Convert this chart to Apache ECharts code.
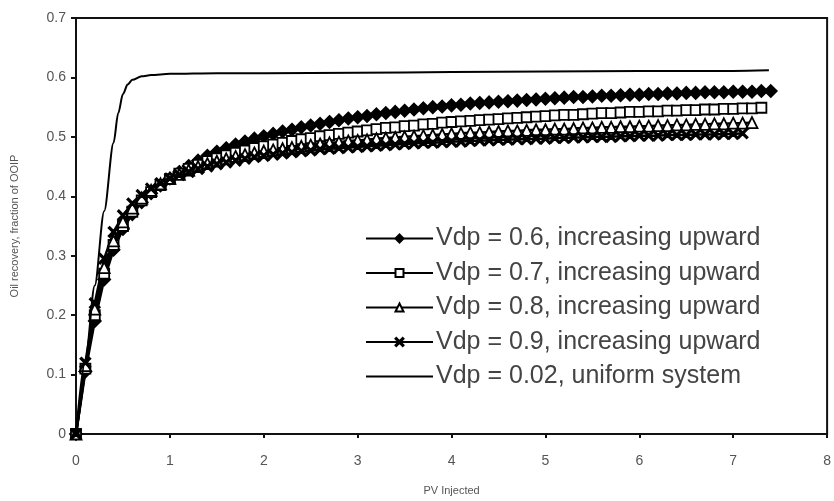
<!DOCTYPE html>
<html>
<head>
<meta charset="utf-8">
<script src="https://cdn.jsdelivr.net/npm/echarts@6/dist/echarts.min.js"></script>
<style>html,body{margin:0;padding:0;background:#fff}#c{width:834px;height:501px}</style>
</head>
<body>
<div id="c"></div>
<script>
const seriesNames = ["Vdp = 0.6, increasing upward","Vdp = 0.7, increasing upward","Vdp = 0.8, increasing upward","Vdp = 0.9, increasing upward","Vdp = 0.02, uniform system"];
const pvInjected = [0,0.1,0.2,0.3,0.4,0.5,0.6,0.7,0.8,0.9,1.0,1.1,1.2,1.3,1.4,1.5,1.6,1.7,1.8,1.9,2.0,2.1,2.2,2.3,2.4,2.5,2.6,2.7,2.8,2.9,3.0,3.1,3.2,3.3,3.4,3.5,3.6,3.7,3.8,3.9,4.0,4.1,4.2,4.3,4.4,4.5,4.6,4.7,4.8,4.9,5.0,5.1,5.2,5.3,5.4,5.5,5.6,5.7,5.8,5.9,6.0,6.1,6.2,6.3,6.4,6.5,6.6,6.7,6.8,6.9,7.0,7.1,7.2,7.3,7.4];
const vdp06 = [0,0.105,0.19,0.26,0.31,0.345,0.37,0.39,0.405,0.418,0.43,0.441,0.451,0.46,0.468,0.475,0.481,0.487,0.492,0.497,0.501,0.505,0.509,0.512,0.516,0.519,0.522,0.525,0.528,0.531,0.533,0.535,0.538,0.54,0.542,0.544,0.546,0.548,0.55,0.551,0.553,0.554,0.556,0.557,0.558,0.559,0.56,0.561,0.562,0.563,0.564,0.565,0.566,0.567,0.567,0.568,0.569,0.569,0.57,0.571,0.571,0.572,0.572,0.573,0.573,0.574,0.574,0.575,0.575,0.575,0.576,0.576,0.576,0.577,0.577];
const vdp07 = [0,0.11,0.2,0.27,0.318,0.35,0.374,0.393,0.407,0.419,0.429,0.438,0.446,0.453,0.459,0.464,0.469,0.473,0.477,0.481,0.484,0.487,0.49,0.493,0.496,0.498,0.501,0.503,0.505,0.507,0.509,0.511,0.513,0.515,0.516,0.518,0.519,0.521,0.522,0.524,0.525,0.526,0.527,0.528,0.529,0.53,0.531,0.532,0.533,0.534,0.535,0.536,0.537,0.537,0.538,0.539,0.54,0.54,0.541,0.542,0.542,0.543,0.543,0.544,0.544,0.545,0.545,0.546,0.546,0.547,0.547,0.548,0.548,0.549];
const vdp08 = [0,0.115,0.21,0.28,0.325,0.357,0.38,0.397,0.41,0.421,0.43,0.437,0.444,0.45,0.455,0.459,0.463,0.467,0.47,0.473,0.476,0.478,0.48,0.482,0.484,0.486,0.488,0.49,0.491,0.493,0.494,0.495,0.497,0.498,0.499,0.5,0.501,0.502,0.503,0.504,0.505,0.506,0.507,0.507,0.508,0.509,0.51,0.51,0.511,0.512,0.512,0.513,0.513,0.514,0.515,0.515,0.516,0.516,0.517,0.517,0.518,0.518,0.519,0.519,0.52,0.52,0.521,0.521,0.522,0.522,0.523,0.523,0.524];
const vdp09 = [0,0.12,0.22,0.295,0.34,0.368,0.388,0.402,0.413,0.422,0.43,0.436,0.441,0.446,0.45,0.454,0.457,0.46,0.463,0.466,0.468,0.47,0.472,0.474,0.476,0.477,0.479,0.48,0.481,0.482,0.483,0.484,0.485,0.486,0.487,0.488,0.489,0.49,0.49,0.491,0.492,0.492,0.493,0.494,0.494,0.495,0.495,0.496,0.496,0.497,0.497,0.498,0.498,0.499,0.499,0.5,0.5,0.5,0.501,0.501,0.502,0.502,0.502,0.503,0.503,0.503,0.504,0.504,0.504,0.505,0.505,0.506];
const uniformX = [0,0.1,0.2,0.3,0.4,0.45,0.5,0.55,0.6,0.7,0.8,1.0,1.5,2,3,4,5,6,7,7.38];
const uniformY = [0,0.125,0.25,0.375,0.49,0.54,0.572,0.588,0.596,0.602,0.604,0.606,0.607,0.607,0.608,0.609,0.61,0.611,0.611,0.612];
const xTicks = [0,1,2,3,4,5,6,7,8];
const yTicks = [0,0.1,0.2,0.3,0.4,0.5,0.6,0.7];

function pairs(xs, ys){ return ys.map((y,i)=>[xs[i], y]); }
const crossPath = 'path://M1,0L5,4L9,0L10,1L6,5L10,9L9,10L5,6L1,10L0,9L4,5L0,1Z';
const font = '"Liberation Sans", Arial, sans-serif';

const chart = echarts.init(document.getElementById('c'), null, {renderer:'canvas'});
const mk = (name, data, symbol, size, fill) => ({
  name, type:'line', data, symbol, symbolSize:size, showAllSymbol:true,
  lineStyle:{color:'#000', width:2.5}, itemStyle:{color:fill, borderColor:'#000', borderWidth:1.8},
  emphasis:{disabled:true}, animation:false, z:3
});
chart.setOption({
  animation:false,
  backgroundColor:'#fff',
  grid:{left:76, right:3, top:18, bottom:64, show:true, borderColor:'#111', borderWidth:2},
  legend:{
    orient:'vertical', left:365, top:226, padding:0, itemWidth:67, itemHeight:10, itemGap:9.5,
    data:[seriesNames[0], seriesNames[1], seriesNames[2], seriesNames[3],
      {name:seriesNames[4], icon:'path://M0,0L100,0L100,3L0,3Z'}],
    textStyle:{fontFamily:font, fontSize:25, color:'#444', lineHeight:25, padding:[0,0,0,-2]},
    inactiveColor:'#000'
  },
  xAxis:{
    type:'value', min:0, max:8, interval:1,
    name:'PV Injected', nameLocation:'middle', nameGap:51,
    nameTextStyle:{fontFamily:font, fontSize:11, color:'#555'},
    axisLine:{show:true, lineStyle:{color:'#111', width:2}},
    axisTick:{show:true, length:4, lineStyle:{color:'#111', width:2}},
    axisLabel:{fontFamily:font, fontSize:14, color:'#555', margin:20},
    splitLine:{show:false}
  },
  yAxis:{
    type:'value', min:0, max:0.7, interval:0.1,
    name:'Oil recovery, fraction of OOIP', nameLocation:'middle', nameGap:56,
    nameTextStyle:{fontFamily:font, fontSize:11, color:'#555'},
    axisLine:{show:true, lineStyle:{color:'#111', width:2}},
    axisTick:{show:true, length:5, lineStyle:{color:'#111', width:2}},
    axisLabel:{fontFamily:font, fontSize:14, color:'#555', margin:10,
      formatter:v=>{ const t = yTicks.find(k=>Math.abs(k-v)<1e-9); return t===0?'0':String(+(t!==undefined?t:v).toFixed(1)); }},
    splitLine:{show:false}
  },
  series:[
    mk(seriesNames[0], pairs(pvInjected, vdp06), 'diamond', 12, '#000'),
    mk(seriesNames[1], pairs(pvInjected, vdp07), 'rect', 10, '#fff'),
    mk(seriesNames[2], pairs(pvInjected, vdp08), 'triangle', 11, '#fff'),
    mk(seriesNames[3], pairs(pvInjected, vdp09), crossPath, 10, '#000'),
    {name:seriesNames[4], type:'line', data:pairs(uniformX, uniformY), symbol:'none',
     smooth:0.3, smoothMonotone:'x', lineStyle:{color:'#000', width:2}, itemStyle:{color:'#000'},
     emphasis:{disabled:true}, z:4}
  ]
});
</script>
</body>
</html>
